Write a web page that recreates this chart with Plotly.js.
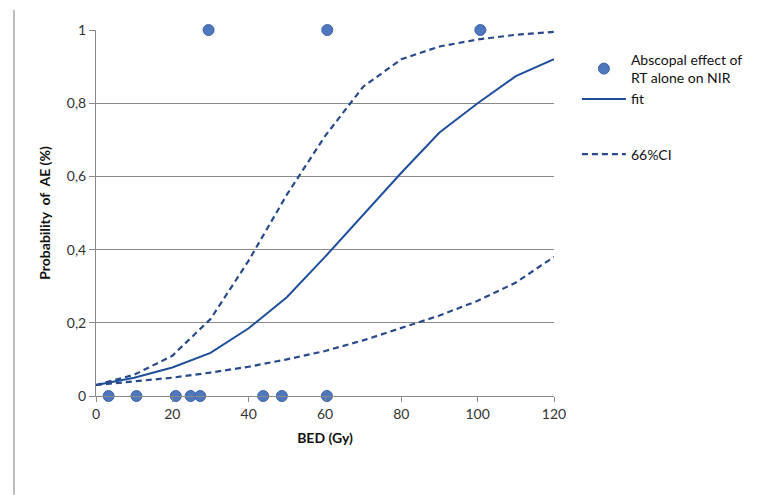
<!DOCTYPE html>
<html>
<head>
<meta charset="utf-8">
<script src="https://cdn.plot.ly/plotly-3.0.1.min.js"></script>
<style>html,body{margin:0;padding:0;background:#fff;}#chart{width:762px;height:495px;}</style>
</head>
<body>
<div id="chart"></div>
<script>
// Observed points (BED in Gy, abscopal effect 0/1)
const obsBED = [3.3, 10.6, 20.9, 24.8, 27.3, 43.8, 48.7, 60.5, 29.5, 60.6, 100.7];
const obsAE  = [0, 0, 0, 0, 0, 0, 0, 0, 1, 1, 1];

// Curve grid
const curveBED = [0, 10, 20, 30, 40, 50, 60, 70, 80, 90, 100, 110, 120];
const fitP   = [0.03, 0.05, 0.078, 0.118, 0.185, 0.27, 0.38, 0.495, 0.61, 0.72, 0.80, 0.874, 0.92];
const upperP = [0.03, 0.058, 0.11, 0.21, 0.37, 0.55, 0.71, 0.845, 0.92, 0.955, 0.974, 0.987, 0.995];
const lowerP = [0.03, 0.04, 0.05, 0.064, 0.08, 0.10, 0.123, 0.152, 0.185, 0.22, 0.26, 0.31, 0.38];

// Tick labels
const yTickVals = [0, 0.2, 0.4, 0.6, 0.8, 1];
const yTickText = ['0', '0,2', '0,4', '0,6', '0,8', '1'];
const xTickVals = [0, 20, 40, 60, 80, 100, 120];

const FONT = 'Lato, "Open Sans", sans-serif';
const lineBlue = '#1f4f9c';
const dashBlue = '#28498a';

const traces = [
  {
    x: obsBED, y: obsAE, type: 'scatter', mode: 'markers',
    name: 'Abscopal effect of<br>RT alone on NIR',
    legendgroup: 'a',
    marker: {color: '#4f77be', size: 11, line: {color: '#3d63a8', width: 1}},
    cliponaxis: false
  },
  {
    x: curveBED, y: fitP, type: 'scatter', mode: 'lines',
    name: 'fit', legendgroup: 'a',
    line: {color: lineBlue, width: 2}
  },
  {
    x: curveBED, y: upperP, type: 'scatter', mode: 'lines',
    name: '66%CI', legendgroup: 'c',
    line: {color: dashBlue, width: 2.2, dash: '6px,4px'}
  },
  {
    x: curveBED, y: lowerP, type: 'scatter', mode: 'lines',
    name: '66%CI lower', legendgroup: 'c', showlegend: false,
    line: {color: dashBlue, width: 2.2, dash: '6px,4px'}
  }
];

const layout = {
  width: 762, height: 495,
  margin: {l: 96, r: 208, t: 30, b: 99},
  paper_bgcolor: '#ffffff', plot_bgcolor: '#ffffff',
  font: {family: FONT, size: 14, color: '#222'},
  showlegend: true,
  legend: {
    x: 1.05, y: 0.962, xanchor: 'left', yanchor: 'top',
    traceorder: 'grouped', tracegroupgap: 34,
    font: {family: FONT, size: 14, color: '#111'},
    itemwidth: 44
  },
  xaxis: {
    range: [0, 120], tickvals: xTickVals,
    showgrid: false, zeroline: false,
    showline: true, linecolor: '#8a8a8a', linewidth: 1,
    ticks: 'outside', ticklen: 5, tickcolor: '#8a8a8a',
    tickfont: {family: FONT, size: 14, color: '#333'},
    title: {text: '<b>BED (Gy)</b>', font: {family: FONT, size: 14, color: '#111'}, standoff: 12}
  },
  yaxis: {
    range: [0, 1], tickvals: yTickVals, ticktext: yTickText,
    showgrid: true, gridcolor: '#8a8a8a', gridwidth: 1,
    zeroline: false,
    showline: true, linecolor: '#8a8a8a', linewidth: 1,
    ticks: 'outside', ticklen: 6, tickcolor: '#8a8a8a',
    tickfont: {family: FONT, size: 14, color: '#333'},
    title: {text: '<b>Probability  of  AE (%)</b>', font: {family: FONT, size: 14, color: '#111'}, standoff: 12}
  },
  shapes: [
    {type: 'line', xref: 'paper', yref: 'paper',
     x0: -0.179, x1: -0.179, y0: -0.27, y1: 1.055,
     line: {color: '#a8a8a8', width: 1.5}}
  ]
};

Plotly.newPlot('chart', traces, layout, {displayModeBar: false, staticPlot: true});
</script>
</body>
</html>
